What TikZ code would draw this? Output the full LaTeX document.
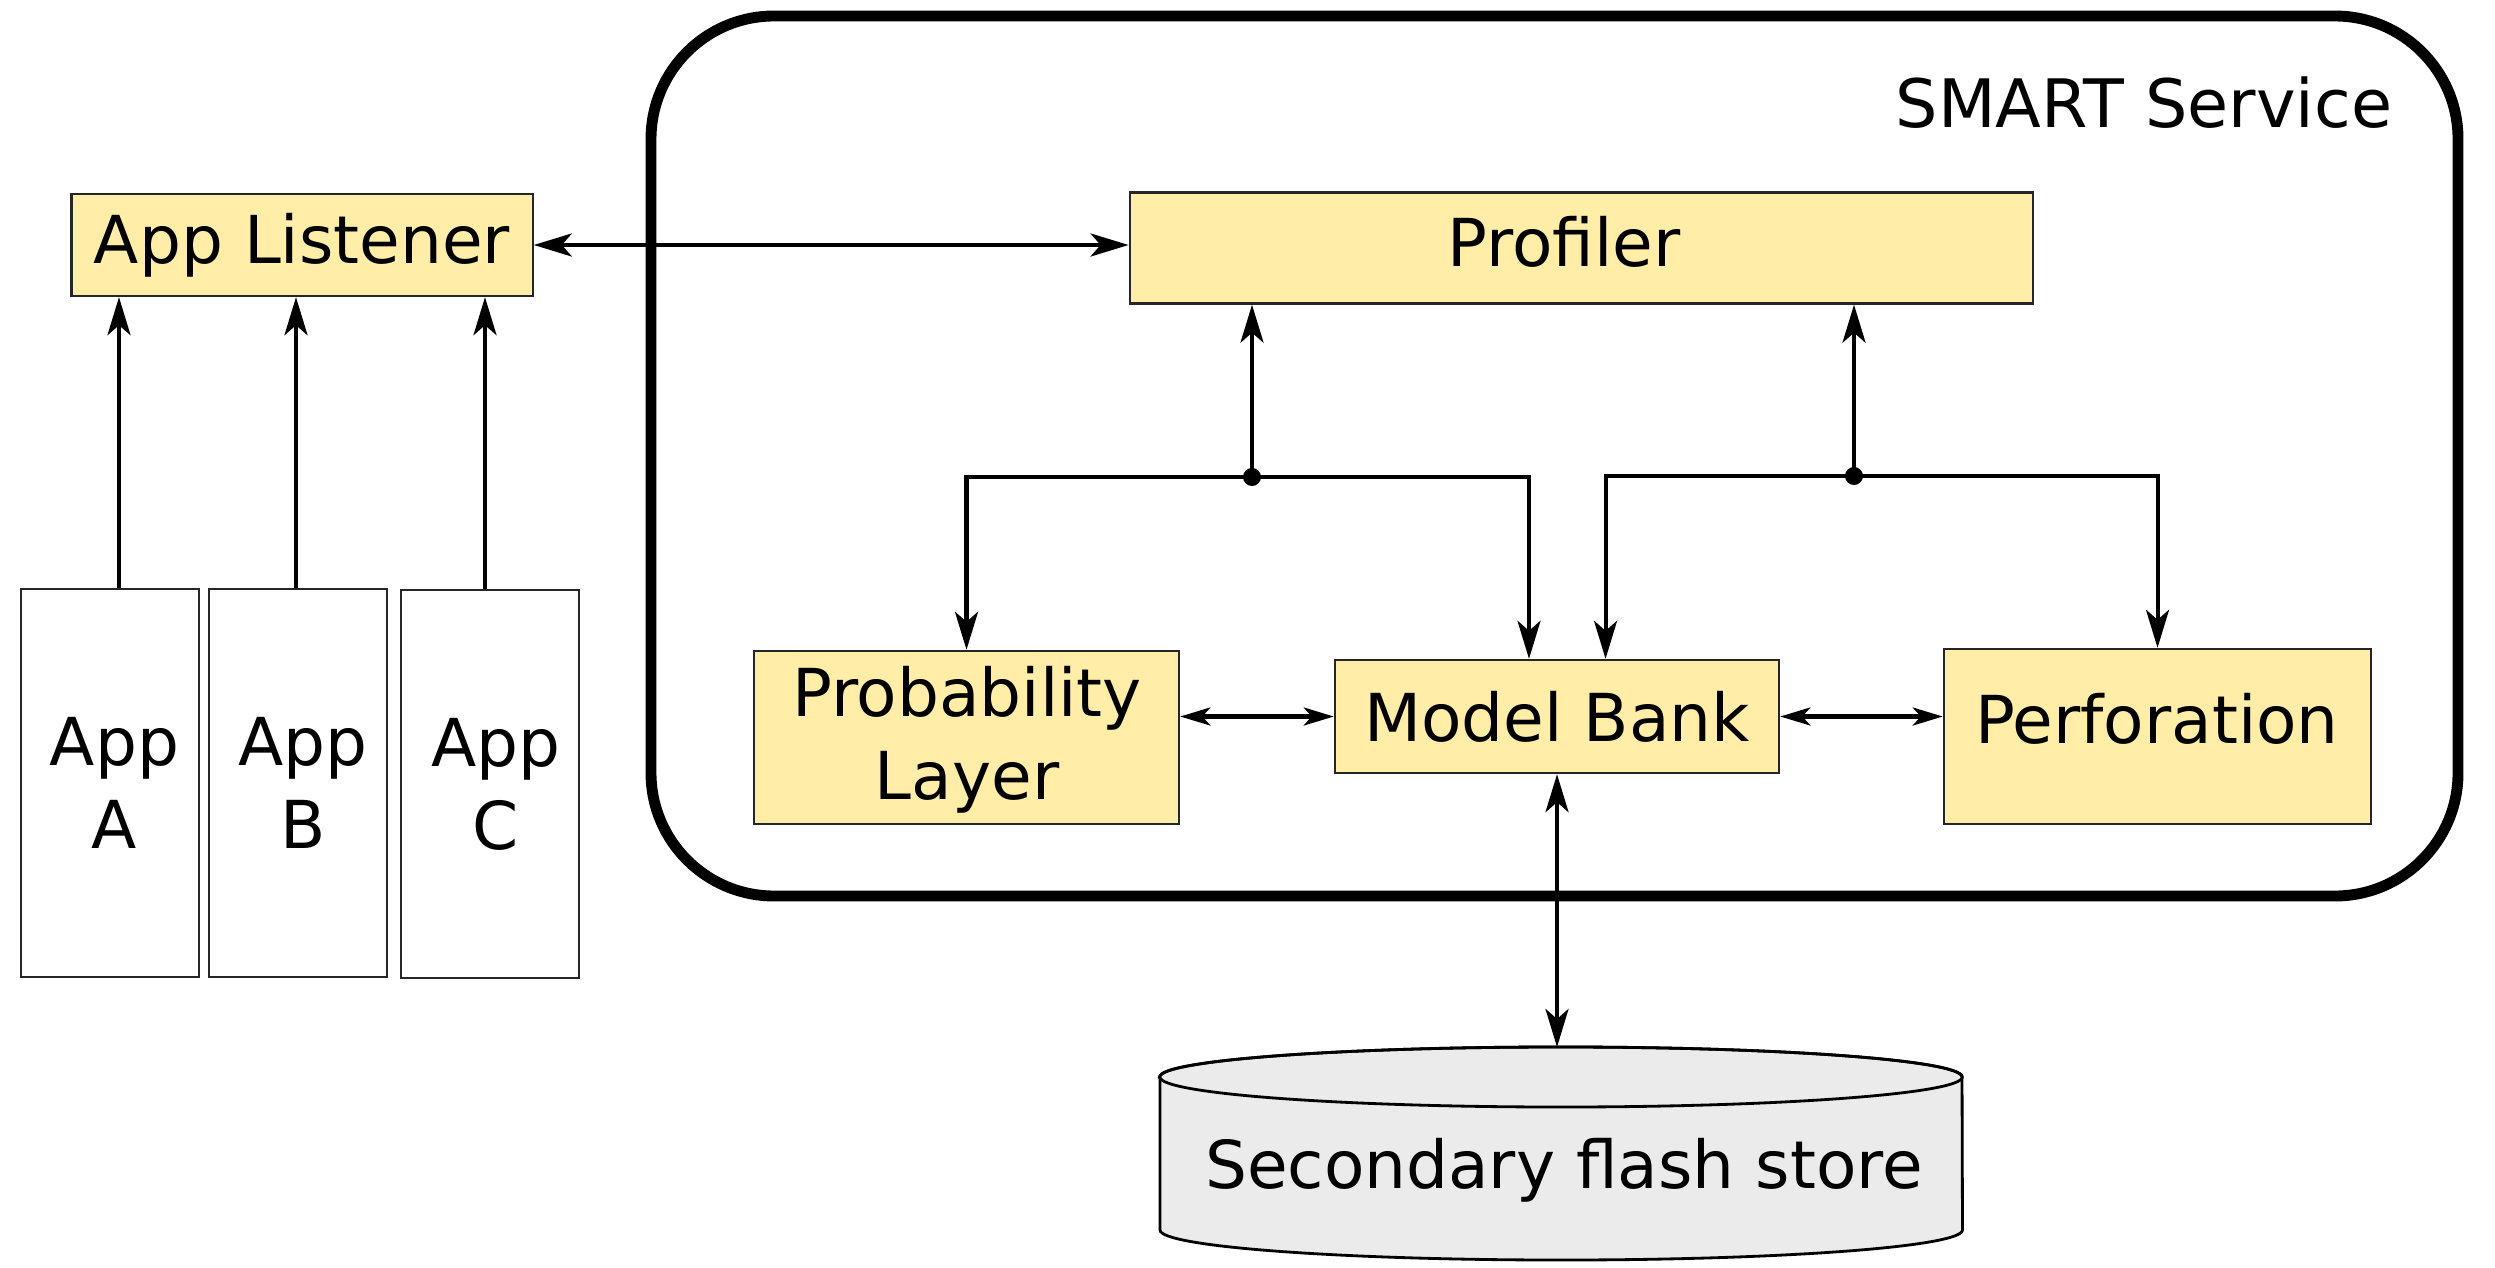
\documentclass[tikz,border=0pt]{standalone}
\usepackage{fontspec}
\setmainfont{DejaVu Sans}
\usetikzlibrary{arrows.meta}
\definecolor{boxyellow}{HTML}{FFEDA8}
\definecolor{storegray}{HTML}{EBEBEB}
\begin{document}
\begin{tikzpicture}[x=0.01cm,y=-0.01cm,
  txt/.style={font=\fontsize{18.8}{23.6}\selectfont},
  box/.style={txt, draw=black!85, line width=0.65pt, fill=boxyellow, inner sep=0pt, align=center},
  appbox/.style={draw=black!85, line width=0.65pt, fill=white, inner sep=0pt, minimum width=1.78cm, minimum height=3.88cm},
  lbl/.style={txt, inner sep=0pt, align=center},
  conn/.style={line width=1.15pt},
  bighead/.tip={Stealth[length=0.38cm,width=0.23cm,inset=0.1cm]},
  smallhead/.tip={Stealth[length=0.3cm,width=0.18cm,inset=0.08cm]},
  arr/.style={conn, -bighead},
  darr/.style={conn, bighead-bighead},
  sarr/.style={line width=1.15pt, smallhead-smallhead}
]
\useasboundingbox (0,0) rectangle (2495,1267);

% SMART service container
\draw[line width=3.1pt, rounded corners=1.23cm] (651,16) rectangle (2458,896);
\node[inner sep=0pt, font=\fontsize{19}{22}\selectfont] (smarttitle) at (2144,103) {SMART Service};

% boxes
\node[box, minimum width=4.61cm, minimum height=1.02cm] (listener) at (302,245) {App Listener};
\node[box, minimum width=9.03cm, minimum height=1.11cm] (profiler) at (1581.5,248) {};
\node[lbl] (profilertext) at (1564,242) {Profiler};
\node[box, minimum width=4.25cm, minimum height=1.73cm] (prob) at (966.5,737.5) {};
\node[lbl] (probtext) at (967,740) {Probability\\Layer};
\node[box, minimum width=4.44cm, minimum height=1.13cm] (bank) at (1557,716.5) {Model Bank};
\node[box, minimum width=4.27cm, minimum height=1.75cm] (perf) at (2157.5,736.5) {};
\node[lbl] (perftext) at (2157,719) {Perforation};

% apps
\node[appbox] (appA) at (110,783) {};
\node[appbox] (appB) at (298,783) {};
\node[appbox] (appC) at (490,784) {};
\node[lbl] (appAtext) at (114.5,783) {App\\A};
\node[lbl] (appBtext) at (303,783) {App\\B};
\node[lbl] (appCtext) at (496,784) {App\\C};

% secondary flash store (cylinder)
\filldraw[fill=storegray, draw=black, line width=0.8pt]
  (1160,1077) -- (1160,1230)
  arc[start angle=180, end angle=360, x radius=4.01cm, y radius=0.3cm]
  -- (1962,1077)
  arc[start angle=0, end angle=180, x radius=4.01cm, y radius=0.3cm] -- cycle;
\draw[line width=0.8pt] (1561,1077) ellipse [x radius=4.01cm, y radius=0.3cm];
\node[lbl] (store) at (1564,1170) {Secondary flash store};
\coordinate (storetop) at (1558,1047);

% app arrows
\coordinate (xa) at (119,0);
\coordinate (xb) at (296,0);
\coordinate (xc) at (485,0);
\draw[arr] (appA.north -| xa) -- (listener.south -| xa);
\draw[arr] (appB.north -| xb) -- (listener.south -| xb);
\draw[arr] (appC.north -| xc) -- (listener.south -| xc);

% listener <-> profiler
\draw[darr] (listener.east) -- (listener.east -| profiler.west);

% left tree
\coordinate (dotL) at (1252,477);
\coordinate (bankinL) at ([xshift=-0.28cm]bank.north);
\draw[arr] (dotL) -- (dotL |- profiler.south);
\draw[arr] (dotL) -| (prob.north);
\draw[arr] (dotL) -| (bankinL);
\fill (dotL) circle (0.09cm);

% right tree
\coordinate (dotR) at (1854,476);
\coordinate (bankinR) at ([xshift=0.485cm]bank.north);
\draw[arr] (dotR) -- (dotR |- profiler.south);
\draw[arr] (dotR) -| (bankinR);
\draw[arr] (dotR) -| (perf.north);
\fill (dotR) circle (0.09cm);

% horizontal links
\draw[sarr] (prob.east |- bank.west) -- (bank.west);
\draw[sarr] (bank.east) -- (bank.east -| perf.west);

% bank <-> store
\draw[darr] (bank.south) -- (bank.south |- storetop);
\end{tikzpicture}
\end{document}
